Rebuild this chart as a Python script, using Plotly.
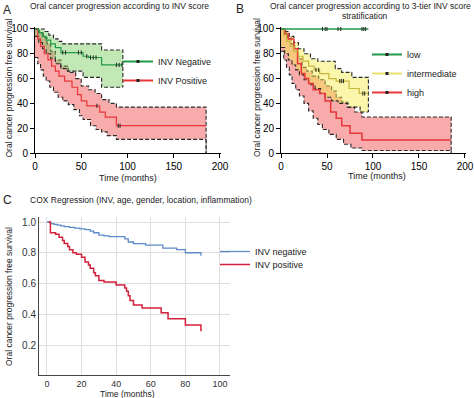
import plotly.graph_objects as go

# ---------------- DATA ----------------
# Panel A: INV score (Kaplan-Meier, % progression free)
A_neg_t = [0, 4, 8, 12, 17, 22, 28, 52, 58, 72, 95]
A_neg_s = [100, 97, 94, 91, 88, 85, 81, 78, 77, 71, 71]
A_neg_up_t = [0, 10, 15, 20, 25, 29, 72, 95]
A_neg_up_s = [100, 98, 95, 92, 90, 88, 83, 83]
A_neg_lo_t = [0, 4, 8, 12, 17, 22, 28, 35, 52, 72, 95]
A_neg_lo_s = [94, 89, 84, 80, 76, 72, 68, 66, 61, 53, 53]
A_neg_cens = [30, 33, 47, 50, 56, 60, 63, 66, 88, 91, 94]

A_pos_t = [0, 3, 6, 10, 14, 18, 22, 26, 32, 40, 46, 50, 56, 70, 76, 88, 185]
A_pos_s = [100, 92, 86, 80, 75, 70, 66, 62, 58, 53, 47, 42, 38, 33, 29, 22, 22]
A_pos_up_t = [0, 5, 9, 13, 17, 22, 28, 36, 44, 50, 58, 65, 72, 80, 88, 185]
A_pos_up_s = [100, 97, 93, 88, 82, 75, 70, 65, 60, 54, 51, 48, 43, 40, 37, 37]
A_pos_lo_t = [0, 3, 6, 9, 12, 16, 20, 25, 30, 36, 42, 48, 52, 60, 66, 72, 78, 88, 185]
A_pos_lo_s = [77, 72, 67, 62, 58, 53, 49, 45, 42, 39, 35, 30, 27, 22, 19, 17, 14, 11, 11]
A_pos_cens = [67, 90, 92]

# Panel B: 3-tier INV score
B_low_t = [0, 95]
B_low_s = [100, 100]
B_low_cens = [45, 48, 50, 62, 65, 88, 90, 92]

B_int_t = [0, 3, 6, 10, 14, 19, 24, 30, 36, 42, 52, 60, 74, 85, 95]
B_int_s = [100, 95, 90, 86, 82, 78, 74, 70, 67, 64, 60, 58, 52, 48, 48]
B_int_up_t = [0, 5, 9, 14, 19, 25, 32, 40, 59, 66, 77, 95]
B_int_up_s = [100, 98, 94, 89, 84, 80, 76, 74, 68, 65, 61, 61]
B_int_lo_t = [0, 4, 8, 12, 16, 20, 25, 30, 37, 43, 48, 55, 62, 73, 86, 95]
B_int_lo_s = [85, 80, 75, 71, 67, 63, 59, 55, 52, 48, 45, 42, 40, 37, 33, 33]
B_int_cens = [38, 41, 64, 66, 68, 89, 91]

B_high_t = [0, 4, 8, 14, 18, 22, 26, 30, 35, 42, 48, 54, 60, 66, 75, 88, 185]
B_high_s = [100, 96, 92, 84, 72, 64, 60, 56, 51, 48, 42, 33, 28, 22, 16, 10.5, 10.5]
B_high_up_t = [0, 3, 7, 11, 15, 19, 23, 28, 34, 41, 48, 55, 60, 66, 72, 80, 88, 185]
B_high_up_s = [100, 97, 93, 88, 82, 76, 69, 66, 62, 59, 54, 50, 45, 41, 37, 33, 29, 29]
B_high_lo_t = [0, 3, 6, 9, 12, 16, 20, 25, 30, 35, 40, 45, 52, 60, 68, 76, 88, 185]
B_high_lo_s = [82, 75, 69, 63, 56, 51, 46, 40, 34, 28, 23, 19, 15, 11, 7, 4, 2, 2]

# Panel C: COX regression (fraction progression free)
C_neg_t = [0, 2, 4, 6, 8, 10, 13, 16, 19, 22, 25, 27, 30, 33, 36, 45, 47, 50, 57, 67, 75, 80, 89]
C_neg_s = [1.0, 0.99, 0.985, 0.98, 0.975, 0.97, 0.965, 0.96, 0.955, 0.95, 0.94, 0.93, 0.915,
           0.91, 0.905, 0.89, 0.87, 0.86, 0.85, 0.83, 0.82, 0.80, 0.78]
C_pos_t = [1, 2, 5, 7, 9, 10, 12, 13, 15, 17, 20, 22, 24, 25, 27, 28, 30, 33, 40, 45, 46, 47,
           48, 50, 55, 66, 70, 80, 89]
C_pos_s = [1.0, 0.93, 0.92, 0.90, 0.88, 0.86, 0.84, 0.82, 0.80, 0.79, 0.77, 0.74, 0.72, 0.70,
           0.67, 0.65, 0.62, 0.61, 0.59, 0.57, 0.55, 0.52, 0.49, 0.46, 0.44, 0.41, 0.37, 0.33, 0.29]

A_xticks = [0, 50, 100, 150, 200]
A_yticks = [0, 20, 40, 60, 80, 100]
C_xticks = [0, 20, 40, 60, 80, 100]
C_yticks = [0.2, 0.4, 0.6, 0.8, 1.0]

# ---------------- STYLE ----------------
FONT = "Arial, Liberation Sans, sans-serif"
GREEN = "#22994a"
GREEN_FILL = "rgba(110,200,80,0.42)"
RED = "#e8363a"
RED_FILL = "rgba(240,80,80,0.48)"
OLIVE = "#c9b63c"
YEL_FILL = "rgba(245,235,70,0.45)"
CI_LINE = "#2a2a2a"
C_BLUE = "#5b8bc8"
C_RED = "#d3213d"


def step_pts(t, s):
    xs, ys = [t[0]], [s[0]]
    for i in range(1, len(t)):
        xs += [t[i], t[i]]
        ys += [s[i - 1], s[i]]
    return xs, ys


def value_at(t, s, x):
    v = s[0]
    for ti, si in zip(t, s):
        if ti <= x:
            v = si
    return v


fig = go.Figure()


def add_km(xa, ya, ut, us, lt, ls, fill, end_drop=None):
    ux, uy = step_pts(ut, us)
    lx, ly = step_pts(lt, ls)
    fig.add_trace(go.Scatter(x=ux + lx[::-1], y=uy + ly[::-1], fill="toself",
                             fillcolor=fill, line=dict(width=0), mode="lines",
                             xaxis=xa, yaxis=ya, showlegend=False, hoverinfo="skip"))
    for bx, by in ((ux, uy), (lx, ly)):
        bx, by = list(bx), list(by)
        if end_drop is not None:
            bx.append(bx[-1])
            by.append(end_drop)
        fig.add_trace(go.Scatter(x=bx, y=by, mode="lines",
                                 line=dict(color=CI_LINE, width=1.1, dash="4px,2px"),
                                 xaxis=xa, yaxis=ya, showlegend=False, hoverinfo="skip"))


def add_curve(xa, ya, t, s, color, width, cens=None):
    fig.add_trace(go.Scatter(x=t, y=s, mode="lines", line=dict(color=color, width=width, shape="hv"),
                             xaxis=xa, yaxis=ya, showlegend=False))
    if cens:
        fig.add_trace(go.Scatter(x=cens, y=[value_at(t, s, c) for c in cens], mode="markers",
                                 marker=dict(symbol="line-ns-open", size=3, color="#222",
                                             line=dict(width=1, color="#222")),
                                 xaxis=xa, yaxis=ya, showlegend=False, hoverinfo="skip"))


def legend_item(name, color, legend, width=2, marker=True):
    fig.add_trace(go.Scatter(x=[None], y=[None], name=name,
                             mode="lines+markers" if marker else "lines",
                             line=dict(color=color, width=width),
                             marker=dict(symbol="square", size=3, color="#222"),
                             legend=legend))


# Panel A
add_km("x", "y", A_pos_up_t, A_pos_up_s, A_pos_lo_t, A_pos_lo_s, RED_FILL, end_drop=0)
add_km("x", "y", A_neg_up_t, A_neg_up_s, A_neg_lo_t, A_neg_lo_s, GREEN_FILL, end_drop=A_neg_lo_s[-1])
add_curve("x", "y", A_pos_t, A_pos_s, RED, 1.2, A_pos_cens)
add_curve("x", "y", A_neg_t, A_neg_s, GREEN, 1.2, A_neg_cens)
legend_item("INV Negative", GREEN, "legend")
legend_item("INV Positive", RED, "legend")

# Panel B
add_km("x2", "y2", B_high_up_t, B_high_up_s, B_high_lo_t, B_high_lo_s, RED_FILL, end_drop=0)
add_km("x2", "y2", B_int_up_t, B_int_up_s, B_int_lo_t, B_int_lo_s, YEL_FILL, end_drop=B_int_lo_s[-1])
add_curve("x2", "y2", B_high_t, B_high_s, RED, 1.5)
add_curve("x2", "y2", B_int_t, B_int_s, OLIVE, 1.2, B_int_cens)
add_curve("x2", "y2", B_low_t, B_low_s, GREEN, 1.5, B_low_cens)
legend_item("low", GREEN, "legend2")
legend_item("intermediate", "#e8e070", "legend2")
legend_item("high", RED, "legend2")

# Panel C
add_curve("x3", "y3", C_neg_t, C_neg_s, C_BLUE, 1.3)
add_curve("x3", "y3", C_pos_t, C_pos_s, C_RED, 1.5)
legend_item("INV negative", C_BLUE, "legend3", width=1.3, marker=False)
legend_item("INV positive", C_RED, "legend4", width=1.5, marker=False)

H = 398.0
W = 474.0


def px_x(p):
    return p / W


def px_y(p):
    return (H - p) / H


km_axis = dict(showline=True, linecolor="black", linewidth=1, ticks="outside", ticklen=4,
               tickcolor="black", tickwidth=1, showgrid=False, zeroline=False, automargin=False,
               tickfont=dict(size=10, color="black", family=FONT))
fig.update_layout(
    xaxis=dict(km_axis, domain=[px_x(35), px_x(220.9)], range=[0, 201], tickvals=A_xticks, anchor="y"),
    yaxis=dict(km_axis, domain=[px_y(153), px_y(27.1)], range=[0, 101.5], tickvals=A_yticks, anchor="x"),
    xaxis2=dict(km_axis, domain=[px_x(281), px_x(465.9)], range=[0, 201], tickvals=A_xticks, anchor="y2"),
    yaxis2=dict(km_axis, domain=[px_y(153), px_y(27.1)], range=[0, 101.5], tickvals=A_yticks, anchor="x2"),
    xaxis3=dict(domain=[px_x(39), px_x(230)], range=[-4.6, 105.8], tickvals=C_xticks, anchor="y3",
                showline=True, linecolor="#444", linewidth=1, showgrid=True, gridcolor="#dedede",
                zeroline=False, ticks="", automargin=False,
                tickfont=dict(size=9, color="#333", family=FONT)),
    yaxis3=dict(domain=[px_y(375), px_y(217)], range=[0.005, 1.0325], tickvals=C_yticks, anchor="x3",
                tickformat=".1f", showline=True, linecolor="#444", linewidth=1, showgrid=True,
                gridcolor="#dedede", zeroline=False, ticks="", automargin=False,
                tickfont=dict(size=10, color="#333", family=FONT)),
)

leg_common = dict(bgcolor="rgba(0,0,0,0)", font=dict(size=9, color="#222", family=FONT),
                  xanchor="left", yanchor="top", itemwidth=30, tracegroupgap=0)
fig.update_layout(
    legend=dict(leg_common, x=px_x(118), y=px_y(47)),
    legend2=dict(leg_common, x=px_x(367), y=px_y(40)),
    legend3=dict(leg_common, x=px_x(215), y=px_y(237)),
    legend4=dict(leg_common, x=px_x(215), y=px_y(250)),
)

ann = []


def text(x, y, s, size, angle=0, xanchor="center", color="#222"):
    ann.append(dict(x=px_x(x), y=px_y(y), xref="paper", yref="paper", text=s, showarrow=False,
                    textangle=angle, xanchor=xanchor, yanchor="middle",
                    font=dict(size=size, color=color, family=FONT)))


text(7, 10, "A", 12)
text(119, 6, "Oral cancer progression according to INV score", 8.5)
text(240, 9, "B", 12)
text(370, 6, "Oral cancer progression according to 3-tier INV score", 8.5)
text(365, 16, "stratification", 8.5)
text(7, 200, "C", 12)
text(28, 200, "COX Regression (INV, age, gender, location, inflammation)", 8.5, xanchor="left")
text(8.5, 88, "Oral cancer progression free survival", 8.5, angle=-90)
text(257, 88, "Oral cancer progression free survival", 8.5, angle=-90)
text(9, 297, "Oral cancer progression free survival", 8.5, angle=-90)
text(128, 178, "Time (months)", 9)
text(377, 176, "Time (months)", 9)
text(127, 393.5, "Time (months)", 8.5)

fig.update_layout(template="none", annotations=ann, width=474, height=398,
                  margin=dict(l=0, r=0, t=0, b=0, autoexpand=False),
                  paper_bgcolor="white", plot_bgcolor="white",
                  font=dict(family=FONT, color="#222"), hovermode=False)

fig.write_html("out.html", config={"displayModeBar": False, "staticPlot": True},
               post_script="document.body.style.margin='0px';document.body.style.overflow='hidden';")
